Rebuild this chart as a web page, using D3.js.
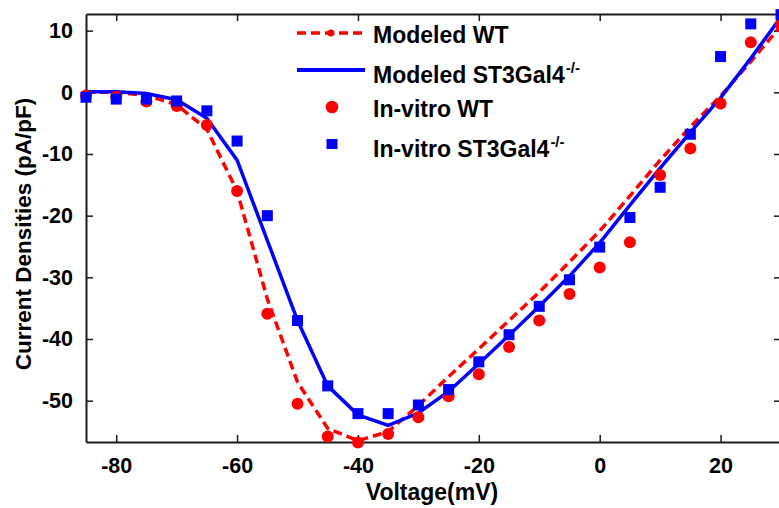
<!DOCTYPE html>
<html>
<head>
<meta charset="utf-8">
<script src="https://cdn.jsdelivr.net/npm/d3@7"></script>
<style>
  html, body { margin: 0; padding: 0; background: #fff; }
  svg { display: block; font-family: Arial, "Liberation Sans", sans-serif; font-weight: bold; }
</style>
</head>
<body>
<svg id="chart" width="779" height="508"></svg>
<script>
// Membrane voltage steps (mV)
const voltages = [-85, -80, -75, -70, -65, -60, -55, -50, -45, -40, -35, -30,
                  -25, -20, -15, -10, -5, 0, 5, 10, 15, 20, 25, 30];

// Modeled current densities (pA/pF)
const modeledWT = [0.0, 0.0, -0.5, -2.0, -6.0, -16.0, -33.5, -47.0, -54.5, -56.5, -55.0, -50.8,
                   -46.1, -41.6, -37.0, -32.4, -27.5, -22.5, -16.8, -11.0, -5.6, -0.6, 5.0, 10.8];
const modeledKO = [0.1, 0.1, -0.2, -1.2, -4.2, -11.0, -24.0, -37.0, -47.6, -52.3, -54.0, -52.0,
                   -48.5, -44.0, -39.4, -34.7, -29.8, -24.4, -18.3, -12.3, -6.5, -0.9, 5.5, 12.2];

// Measured (in-vitro) current densities (pA/pF)
const invitroWT = [-0.5, -0.7, -1.5, -2.2, -5.3, -16.0, -35.9, -50.5, -55.8, -56.8, -55.4, -52.7,
                   -49.3, -45.7, -41.3, -37.0, -32.7, -28.4, -24.3, -13.4, -9.1, -1.8, 8.1, 11.0];
const invitroKO = [-0.8, -1.1, -1.1, -1.4, -3.0, -7.9, -20.0, -37.0, -47.6, -52.1, -52.1, -50.7,
                   -48.2, -43.7, -39.3, -34.7, -30.4, -25.1, -20.3, -15.4, -6.8, 5.8, 11.1, 12.6];

// Axis ticks and labels
const xTicks = [-80, -60, -40, -20, 0, 20];
const yTicks = [-50, -40, -30, -20, -10, 0, 10];
const xLabel = "Voltage(mV)";
const yLabel = "Current Densities (pA/pF)";

const RED = "#ff0000", BLUE = "#0000ff", AXIS = "#1a1a1a";

const svg = d3.select("#chart");
const plotL = 86, plotR = 781, plotT = 14, plotB = 442;

const x = d3.scaleLinear().domain([-85, 30]).range([plotL, plotR]);
const y = d3.scaleLinear().domain([-56.7, 12.7]).range([plotB, plotT]);

// Plain hyphen-minus for negative tick labels
const fmt = d => String(d);

// Axes: inward ticks on all four sides
const tickLen = 7;
const axBottom = svg.append("g").attr("transform", `translate(0,${plotB})`)
  .call(d3.axisBottom(x).tickValues(xTicks).tickSizeInner(-tickLen).tickSizeOuter(0).tickPadding(16).tickFormat(fmt));
const axTop = svg.append("g").attr("transform", `translate(0,${plotT})`)
  .call(d3.axisTop(x).tickValues(xTicks).tickSizeInner(-tickLen).tickSizeOuter(0).tickFormat(""));
const axLeft = svg.append("g").attr("transform", `translate(${plotL},0)`)
  .call(d3.axisLeft(y).tickValues(yTicks).tickSizeInner(-tickLen).tickSizeOuter(0).tickPadding(13).tickFormat(fmt));
const axRight = svg.append("g").attr("transform", `translate(${plotR},0)`)
  .call(d3.axisRight(y).tickValues(yTicks).tickSizeInner(-tickLen).tickSizeOuter(0).tickFormat(""));

[axBottom, axTop, axLeft, axRight].forEach(g => {
  g.select(".domain").attr("stroke", AXIS).attr("stroke-width", 2);
  g.selectAll(".tick line").attr("stroke", AXIS).attr("stroke-width", 1.5);
  g.selectAll(".tick text").attr("fill", "#000")
    .style("font-size", "21.5px").style("font-weight", "bold")
    .style("font-family", "Arial, 'Liberation Sans', sans-serif");
});
axBottom.selectAll(".tick text").attr("dy", "0.71em");

// Axis titles
svg.append("text").attr("x", 432).attr("y", 500).attr("text-anchor", "middle")
  .style("font-size", "23px").text(xLabel);
svg.append("text").attr("transform", `translate(31,234) rotate(-90)`).attr("text-anchor", "middle")
  .style("font-size", "22.5px").text(yLabel);

// Modeled curves
const line = d3.line().x((d, i) => x(voltages[i])).y(d => y(d));
svg.append("path").datum(modeledWT).attr("d", line)
  .attr("fill", "none").attr("stroke", RED).attr("stroke-width", 3.5)
  .attr("stroke-dasharray", "9,5");
svg.append("path").datum(modeledKO).attr("d", line)
  .attr("fill", "none").attr("stroke", BLUE).attr("stroke-width", 3.5);

// In-vitro measurements
svg.append("g").selectAll("circle").data(invitroWT).join("circle")
  .attr("cx", (d, i) => x(voltages[i])).attr("cy", d => y(d))
  .attr("r", 6).attr("fill", RED);
const sq = 11;
svg.append("g").selectAll("rect").data(invitroKO).join("rect")
  .attr("x", (d, i) => x(voltages[i]) - sq / 2).attr("y", d => y(d) - sq / 2)
  .attr("width", sq).attr("height", sq).attr("fill", BLUE);

// Legend
const lg = svg.append("g");
const lx0 = 297, lx1 = 365, tx = 373;
const rows = [
  { y: 33, base: 43, label: "Modeled WT", sup: "" },
  { y: 70, base: 83, label: "Modeled ST3Gal4", sup: "-/-" },
  { y: 107, base: 116.5, label: "In-vitro WT", sup: "" },
  { y: 144, base: 156.5, label: "In-vitro ST3Gal4", sup: "-/-" }
];
lg.append("line").attr("x1", lx0).attr("x2", lx1).attr("y1", rows[0].y).attr("y2", rows[0].y)
  .attr("stroke", RED).attr("stroke-width", 3.5).attr("stroke-dasharray", "9,5");
lg.append("circle").attr("cx", (lx0 + lx1) / 2).attr("cy", rows[0].y).attr("r", 3.5).attr("fill", RED);
lg.append("line").attr("x1", lx0).attr("x2", lx1).attr("y1", rows[1].y).attr("y2", rows[1].y)
  .attr("stroke", BLUE).attr("stroke-width", 4);
lg.append("circle").attr("cx", (lx0 + lx1) / 2 + 1).attr("cy", rows[2].y).attr("r", 6.3).attr("fill", RED);
lg.append("rect").attr("x", (lx0 + lx1) / 2 + 1 - 5.5).attr("y", rows[3].y - 5).attr("width", 11).attr("height", 10).attr("fill", BLUE);

rows.forEach(r => {
  const t = lg.append("text").attr("x", tx).attr("y", r.base).style("font-size", "23px");
  t.append("tspan").text(r.label);
  if (r.sup) {
    t.append("tspan").attr("dy", -10).attr("dx", 1).style("font-size", "15px").text(r.sup);
  }
});
</script>
</body>
</html>
